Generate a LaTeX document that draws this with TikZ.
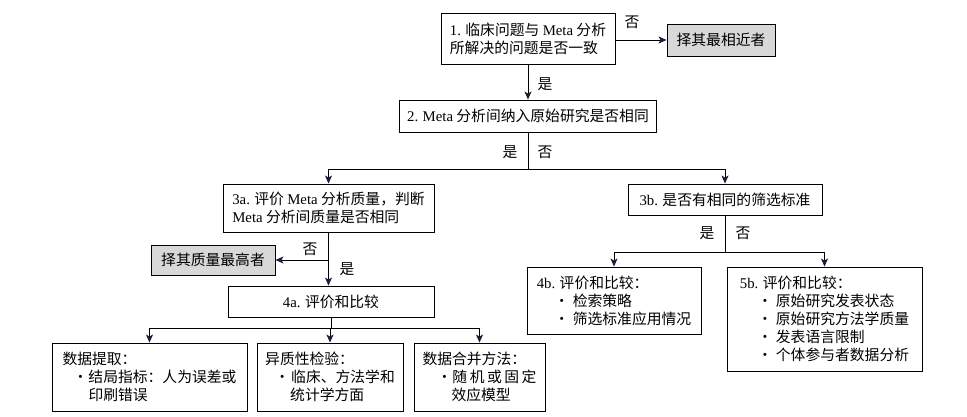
\documentclass[tikz,border=0pt]{standalone}
\usepackage{fontspec}
\setmainfont{Noto Sans CJK SC}
\newfontfamily\lat{Liberation Serif}
\usetikzlibrary{arrows.meta}
\definecolor{tipcol}{RGB}{28,28,56}
\definecolor{pickgray}{RGB}{216,216,216}
\newcommand{\fs}{\fontsize{14.8pt}{18pt}\selectfont}
\newcommand{\mt}{{\lat Meta}}
\newcommand{\bul}[2]{\hspace*{#1pt}\makebox[0pt]{·}\hspace{#2pt}}
\begin{document}
\begin{tikzpicture}[x=1pt,y=-1pt,
    box/.style={draw,line width=0.9pt,align=left,inner sep=0pt,font=\fs},
    pick/.style={box,fill=pickgray},
    lbl/.style={font=\fs,inner sep=0pt},
    arr/.style={-{Stealth[length=8pt,width=7pt,inset=2pt,color=tipcol]},line width=0.9pt}]
    \useasboundingbox (0,0) rectangle (967,417);

    \node[box,minimum width=174pt,minimum height=51pt] (q1) at (528,38.5) {{\lat 1.} 临床问题与 \mt{} 分析\\所解决的问题是否一致};
    \node[pick,minimum width=108pt,minimum height=32pt] (near) at (721,40) {择其最相近者};
    \node[box,minimum width=257pt,minimum height=32pt] (q2) at (528,116) {{\lat 2.} \mt{} 分析间纳入原始研究是否相同};
    \node[box,minimum width=211pt,minimum height=48pt] (q3a) at (328.5,208) {{\lat 3a.} 评价 \mt{} 分析质量，判断\\\mt{} 分析间质量是否相同};
    \node[pick,minimum width=124pt,minimum height=30pt] (best) at (213,260) {择其质量最高者};
    \node[box,minimum width=206pt,minimum height=31pt] (q4a) at (331,301.5) {{\lat 4a.} 评价和比较};
    \node[box,minimum width=194pt,minimum height=31pt] (q3b) at (725,199.5) {{\lat 3b.} 是否有相同的筛选标准};
    \node[box,minimum width=174pt,minimum height=67pt] (q4b) at (614,300.5) {{\lat 4b.} 评价和比较：\\\bul{25}{11}检索策略\\\bul{25}{11}筛选标准应用情况};
    \node[box,minimum width=195pt,minimum height=104pt] (q5b) at (824.5,319) {{\lat 5b.} 评价和比较：\\\bul{25}{11}原始研究发表状态\\\bul{25}{11}原始研究方法学质量\\\bul{25}{11}发表语言限制\\\bul{25}{11}个体参与者数据分析};
    \node[box,minimum width=195pt,minimum height=68pt] (extr) at (149.5,377) {数据提取：\\\bul{18}{8}结局指标：人为误差或\\\hspace*{26pt}印刷错误};
    \node[box,minimum width=146pt,minimum height=68pt] (hetero) at (330,377) {异质性检验：\\\bul{17}{9}临床、方法学和\\\hspace*{25pt}统计学方面};
    \node[box,minimum width=131pt,minimum height=68pt] (pool) at (479.5,377) {数据合并方法：\\\bul{22}{8}\makebox[84pt][s]{随\hfill 机\hfill 或\hfill 固\hfill 定}\\\hspace*{29pt}效应模型};

    % yes / no labels
    \node[lbl] (n1) at (632,22) {否};
    \node[lbl] (y1) at (545,84) {是};
    \node[lbl] (y2) at (510,152) {是};
    \node[lbl] (n2) at (545,152) {否};
    \node[lbl] (n3a) at (310,249) {否};
    \node[lbl] (y3a) at (347,269) {是};
    \node[lbl] (y3b) at (707,233) {是};
    \node[lbl] (n3b) at (743,233) {否};

    \draw[arr] (q1.east |- near) -- (near.west);
    \draw[arr] (q1.south) -- (q2.north);

    \coordinate (s2) at (528,169);
    \draw[line width=0.9pt] (q2.south) -- (s2);
    \draw[line width=0.9pt] (q3a.north |- s2) -- (q3b.north |- s2);
    \draw[arr] (q3a.north |- s2) -- (q3a.north);
    \draw[arr] (q3b.north |- s2) -- (q3b.north);

    \coordinate (s3a) at (q3a.south |- best);
    \draw[arr] (q3a.south) -- (q3a.south |- q4a.north);
    \draw[arr] (s3a) -- (best.east);

    \path (q4a.south) ++(0,11) coordinate (s4a);
    \draw[line width=0.9pt] (q4a.south) -- (s4a);
    \draw[line width=0.9pt] (extr.north |- s4a) -- (pool.north |- s4a);
    \draw[arr] (extr.north |- s4a) -- (extr.north);
    \draw[arr] (hetero.north |- s4a) -- (hetero.north);
    \draw[arr] (pool.north |- s4a) -- (pool.north);

    \path (q3b.south) ++(0,37) coordinate (s3b);
    \draw[line width=0.9pt] (q3b.south) -- (s3b);
    \draw[line width=0.9pt] (q4b.north |- s3b) -- (q5b.north |- s3b);
    \draw[arr] (q4b.north |- s3b) -- (q4b.north);
    \draw[arr] (q5b.north |- s3b) -- (q5b.north);
\end{tikzpicture}
\end{document}
